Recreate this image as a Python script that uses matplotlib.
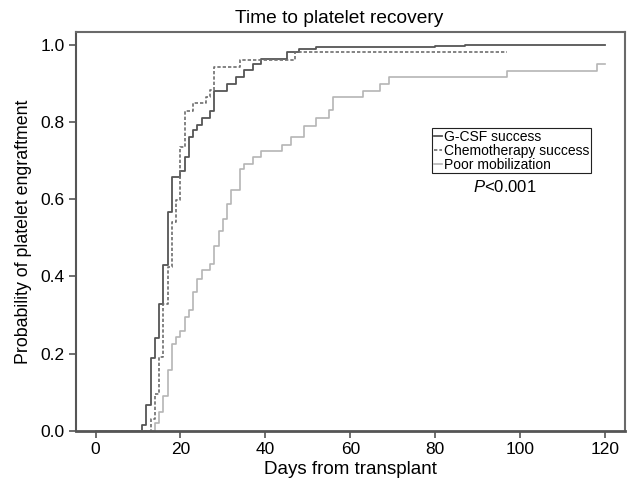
import matplotlib
matplotlib.use("Agg")
import matplotlib.pyplot as plt
import numpy as np

plt.rcParams['font.family'] = ['Liberation Sans', 'DejaVu Sans']
plt.rcParams['mathtext.fontset'] = 'custom'
plt.rcParams['mathtext.it'] = 'Liberation Sans:italic'
plt.rcParams['mathtext.rm'] = 'Liberation Sans'

# Data (event days and cumulative probability after each step)
gcsf_days = [11, 12, 13, 14, 15, 16, 17, 18, 20, 21, 22, 23, 24, 25, 27, 28, 31, 33, 35, 37, 39, 45, 48, 52, 67, 80, 87]
gcsf_prob = [0.015, 0.067, 0.188, 0.24, 0.328, 0.43, 0.568, 0.657, 0.673, 0.709, 0.76, 0.778, 0.793, 0.81, 0.828,
             0.881, 0.898, 0.916, 0.934, 0.95, 0.963, 0.98, 0.989, 0.993, 0.995, 0.997, 1.0]
gcsf_end = 120

chemo_days = [13, 14, 15, 16, 17, 18, 19, 20, 21, 23, 26, 27, 28, 34, 47]
chemo_prob = [0.03, 0.097, 0.192, 0.33, 0.425, 0.541, 0.597, 0.735, 0.829, 0.848, 0.864, 0.883, 0.943, 0.96, 0.982]
chemo_end = 97

poor_days = [14, 15, 16, 17, 18, 19, 20, 21, 22, 23, 24, 25, 27, 28, 29, 30, 31, 32, 34, 35, 37, 39, 44, 46,
             49, 52, 55, 56, 63, 67, 69, 97, 118]
poor_prob = [0.02, 0.05, 0.09, 0.158, 0.225, 0.244, 0.26, 0.295, 0.313, 0.36, 0.394, 0.416, 0.433, 0.48, 0.519,
             0.55, 0.588, 0.623, 0.679, 0.692, 0.709, 0.726, 0.741, 0.76, 0.79, 0.81, 0.83, 0.864, 0.881, 0.898,
             0.916, 0.933, 0.95]
poor_end = 120

series_labels = ["G-CSF success", "Chemotherapy success", "Poor mobilization"]
x_ticks = [0, 20, 40, 60, 80, 100, 120]
y_ticks = [0.0, 0.2, 0.4, 0.6, 0.8, 1.0]


def km(days, prob, end):
    x = [0] + list(days) + [end]
    y = [0] + list(prob) + [prob[-1]]
    return np.array(x), np.array(y)


fig = plt.figure(figsize=(6.29, 4.83), dpi=100)
ax = fig.add_axes([76 / 629, 1 - 431 / 483, (625 - 76) / 629, (431 - 32) / 483])

x, y = km(gcsf_days, gcsf_prob, gcsf_end)
ax.step(x, y, where='post', color='#555555', lw=1.3, label=series_labels[0])
x, y = km(chemo_days, chemo_prob, chemo_end)
ax.step(x, y, where='post', color='#6e6e6e', lw=1.2, dashes=(2.0, 1.2), label=series_labels[1])
x, y = km(poor_days, poor_prob, poor_end)
ax.step(x, y, where='post', color='#b5b5b5', lw=1.2, label=series_labels[2])

ax.set_xlim(-4.6, 124.7)
ax.set_ylim(0, 1.033)
ax.set_xticks(x_ticks)
ax.set_yticks(y_ticks)
ax.set_yticklabels([f"{v:.1f}" for v in y_ticks])
ax.tick_params(axis='both', direction='out', length=5, width=1.2, color='#555555', labelsize=12.5, pad=3)

for s in ax.spines.values():
    s.set_color('#6a6a6a')
    s.set_linewidth(1.5)
ax.spines['bottom'].set_color('#555555')
ax.spines['bottom'].set_linewidth(2)
ax.spines['left'].set_color('#555555')

ax.set_xlabel("Days from transplant", fontsize=13.5, labelpad=3)
ax.set_ylabel("Probability of platelet engraftment", fontsize=12.8, labelpad=6)

fig.text(339 / 629, 1 - 23 / 483, "Time to platelet recovery", fontsize=13.8, ha='center', va='baseline')

leg = ax.legend(loc='upper left', bbox_to_anchor=((432 - 76) / 549, (431 - 128) / 399), fontsize=10,
                frameon=True, fancybox=False, edgecolor='#222222', framealpha=1, borderpad=0.12,
                labelspacing=0.0, handlelength=0.6, handletextpad=0.15, borderaxespad=0)
leg.get_frame().set_linewidth(0.8)

ax.text((505 - 76) / 549, (431 - 187) / 399, r"$\it{P}$<0.001", transform=ax.transAxes,
        fontsize=12, ha='center', va='center')

fig.savefig("out.png", dpi=100)
